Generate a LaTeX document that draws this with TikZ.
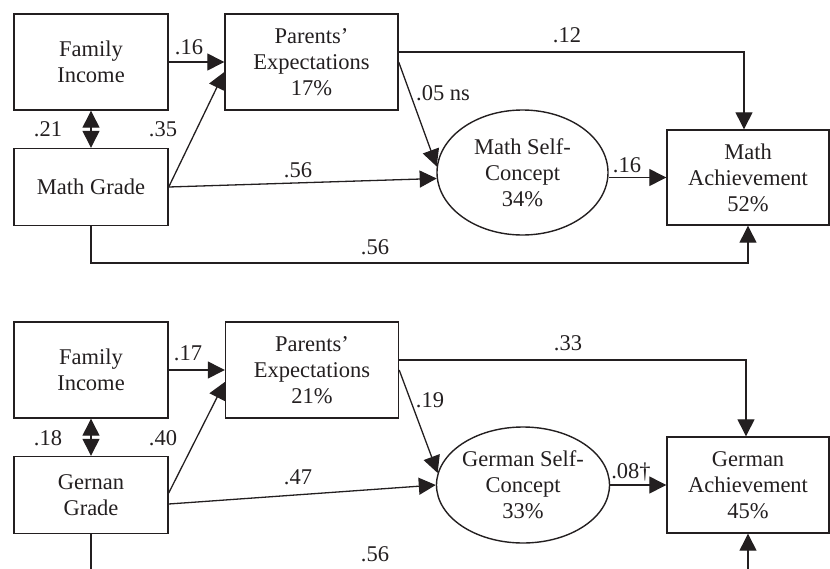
\documentclass[tikz,border=0pt]{standalone}
\usepackage{fontspec}
\setmainfont{Liberation Serif}
\usetikzlibrary{shapes.geometric,arrows.meta,calc}
\definecolor{ink}{HTML}{231F20}
\begin{document}
\begin{tikzpicture}[x=1pt,y=-1pt,
  every node/.style={text=ink,font=\fontsize{22.5}{26}\selectfont},
  box/.style={draw=ink,line width=1.4pt,rectangle,align=center,inner sep=0pt},
  oval/.style={draw=ink,line width=1.4pt,ellipse,align=center,inner sep=0pt},
  lab/.style={inner sep=0pt},
  conn/.style={draw=ink,line width=1.3pt},
  arr/.style={conn,-{Triangle[length=17pt,width=17pt]}},
  darr/.style={conn,{Triangle[length=17pt,width=17pt]}-{Triangle[length=17pt,width=17pt]}}
]
\useasboundingbox (0,0) rectangle (830,568);
\clip (0,0) rectangle (830,568);
% ---------- top diagram ----------
\node[box,minimum width=154pt,minimum height=96pt] (fi) at (91,62) {Family\\Income};
\node[box,minimum width=154pt,minimum height=77pt] (mg) at (91,187) {Math Grade};
\node[box,minimum width=173pt,minimum height=96pt] (pe) at (311.5,62) {Parents'\\Expectations\\17\%};
\node[oval,minimum width=171pt,minimum height=125pt] (sc) at (522.5,172.5) {Math Self-\\Concept\\34\%};
\node[box,minimum width=162pt,minimum height=95pt] (ma) at (748,177.5) {Math\\Achievement\\52\%};
\coordinate (b1) at (0,263);
\draw[arr] (fi.east) -- (pe.west);
\draw[darr] (fi.south) -- (mg.north);
\draw[arr] (mg.east) -- ($(pe.west)+(0,10)$);
\draw[arr] (mg.east) -- (sc.184);
\draw[arr] (pe.east) -- (sc.176);
\draw[arr] ($(pe.east)+(0,-10)$) -| ($(ma.north)+(-4,0)$);
\draw[arr] (sc.east |- ma.west) -- (ma.west);
\draw[arr] (mg.south) |- (b1 -| ma.south) -- (ma.south);
\node[lab] (l1) at (189,47) {.16};
\node[lab] (l2) at (48,129) {.21};
\node[lab] (l3) at (163,129) {.35};
\node[lab] (l4) at (298,170) {.56};
\node[lab] (l5) at (443,93) {.05 ns};
\node[lab] (l6) at (567,35) {.12};
\node[lab] (l7) at (627,165) {.16};
\node[lab] (l8) at (375,247) {.56};
% ---------- bottom diagram ----------
\node[box,minimum width=154pt,minimum height=96pt] (fi2) at (91,370) {Family\\Income};
\node[box,minimum width=154pt,minimum height=77pt] (gg) at (91,495) {Gernan\\Grade};
\node[box,minimum width=173pt,minimum height=96pt] (pe2) at (312,370) {Parents'\\Expectations\\21\%};
\node[oval,minimum width=173pt,minimum height=116pt] (sc2) at (523,485) {German Self-\\Concept\\33\%};
\node[box,minimum width=162pt,minimum height=96pt] (ga) at (748,485) {German\\Achievement\\45\%};
\coordinate (b2) at (0,572);
\draw[arr] (fi2.east) -- (pe2.west);
\draw[darr] (fi2.south) -- (gg.north);
\draw[arr] ($(gg.east)+(0,-2)$) -- ($(pe2.west)+(0,12)$);
\draw[arr] ($(gg.east)+(0,9)$) -- (sc2.west);
\draw[arr] (pe2.east) -- (sc2.172);
\draw[arr] ($(pe2.east)+(0,-10)$) -| ($(ga.north)+(-2,0)$);
\draw[arr] (sc2.east) -- (ga.west);
\draw[arr] (gg.south) |- (b2 -| ga.south) -- (ga.south);
\node[lab] (m1) at (188,353) {.17};
\node[lab] (m2) at (48,438) {.18};
\node[lab] (m3) at (163,438) {.40};
\node[lab] (m4) at (298,477) {.47};
\node[lab] (m5) at (430,400) {.19};
\node[lab] (m6) at (568,343) {.33};
\node[lab] (m7) at (631,472) {.08†};
\node[lab] (m8) at (375,554) {.56};
\end{tikzpicture}
\end{document}
